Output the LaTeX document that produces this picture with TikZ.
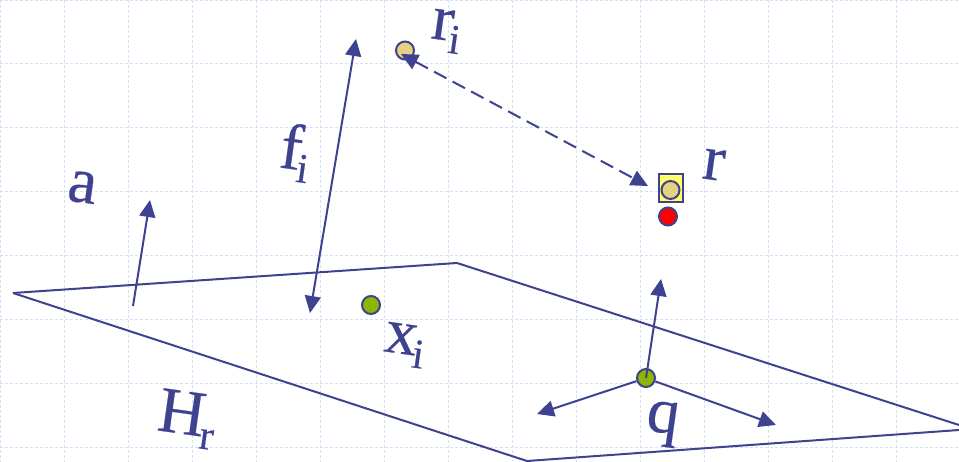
\documentclass[tikz,border=0pt]{standalone}
\usepackage{fontspec}
\setmainfont{Liberation Serif}
\newfontfamily\labelfont[FakeBold=0.3]{Liberation Serif}
\usepackage{xcolor}
\usetikzlibrary{arrows.meta, positioning}
\definecolor{inkblue}{HTML}{3F438F}
\definecolor{gridblue}{HTML}{D5DFF8}
\definecolor{dotgreen}{HTML}{8DB600}
\definecolor{dottan}{HTML}{E6D283}
\definecolor{boxyellow}{HTML}{FFFF66}
\newcommand{\lowsub}[1]{\kern-3pt\raisebox{-12pt}{\fontsize{42}{42}\selectfont #1}}

\begin{document}
\begin{tikzpicture}[x=1pt,y=-1pt,line width=2pt,draw=inkblue,
   >={Triangle[length=17pt,width=16pt]}]
 \tikzstyle{gridline}=[gridblue,line width=1.5pt,dash pattern=on 3pt off 2pt]
 \tikzstyle{dotnode}=[circle,draw=inkblue,line width=2pt,minimum size=18pt,inner sep=0pt]
 \tikzstyle{biglabel}=[text=inkblue,inner sep=0pt,anchor=base west,rotate=-8,
   font=\fontsize{65}{65}\labelfont]
 \useasboundingbox (0,0) rectangle (959,462);
 \fill[white] (0,0) rectangle (959,462);
 % grid
 \foreach \gx in {0,64,...,959}
   \draw[gridline] (\gx+0.5,0) -- (\gx+0.5,462);
 \foreach \gy in {0,63.5,127.5,191.5,255.5,319.5,383.5,447.5}
   \draw[gridline] (0,\gy) -- (959,\gy);
 % plane H_r
 \coordinate (planeL) at (13,293);
 \coordinate (planeT) at (457,263);
 \coordinate (planeR) at (959,425);
 \coordinate (planeB) at (527,461);
 \coordinate (planeE) at (959,430);
 \draw[inkblue] (planeL) -- (planeT) (planeT) -- (planeR);
 \draw[inkblue] (planeL) -- (planeB) (planeB) -- (planeE);
 % points
 \node (ri) [dotnode,fill=dottan] at (405,50.5) {};
 \node (rbox) [rectangle,draw=inkblue,fill=boxyellow,line width=2pt,
   minimum width=24pt,minimum height=28pt,inner sep=0pt] at (670.5,188.5) {};
 \node (rtan) [dotnode,fill=dottan] at (670.5,190) {};
 \node (rred) [dotnode,fill=red] at (668,216.5) {};
 \node (xi) [dotnode,fill=dotgreen] at (371,305) {};
 \node (q) [dotnode,fill=dotgreen] at (646,378) {};
 % vectors
 \coordinate (aS) at (133,306);
 \coordinate (aE) at (150,200);
 \coordinate (fT) at (356,39);
 \coordinate (fB) at (310,313);
 \coordinate (qU) at (661,279);
 \coordinate (qL) at (537,414);
 \coordinate (qR) at (776,425);
 \coordinate (rE) at (648,186);
 \coordinate (rS) at (401,54);
 \draw[->,inkblue] (aS) -- (aE);
 \draw[<->,inkblue] (fT) -- (fB);
 \draw[<->,inkblue,dash pattern=on 14pt off 7pt] (rS) -- (rE);
 \draw[->,inkblue] (q.center) -- (qU);
 \draw[->,inkblue] (q) -- (qL);
 \draw[->,inkblue] (q) -- (qR);
 % labels
 \node (alabel) [biglabel] at (65,200) {a};
 \node (flabel) [biglabel] at (277,167) {f\lowsub{i}};
 \node (rilabel) [biglabel] at (429,38) {r\lowsub{i}};
 \node (rlabel) [biglabel] at (700,178) {r};
 \node (xlabel) [biglabel] at (382,351) {x\lowsub{i}};
 \node (qlabel) [biglabel] at (644,430) {q};
 \node (hlabel) [biglabel] at (155,430) {H\lowsub{r}};
\end{tikzpicture}
\end{document}
